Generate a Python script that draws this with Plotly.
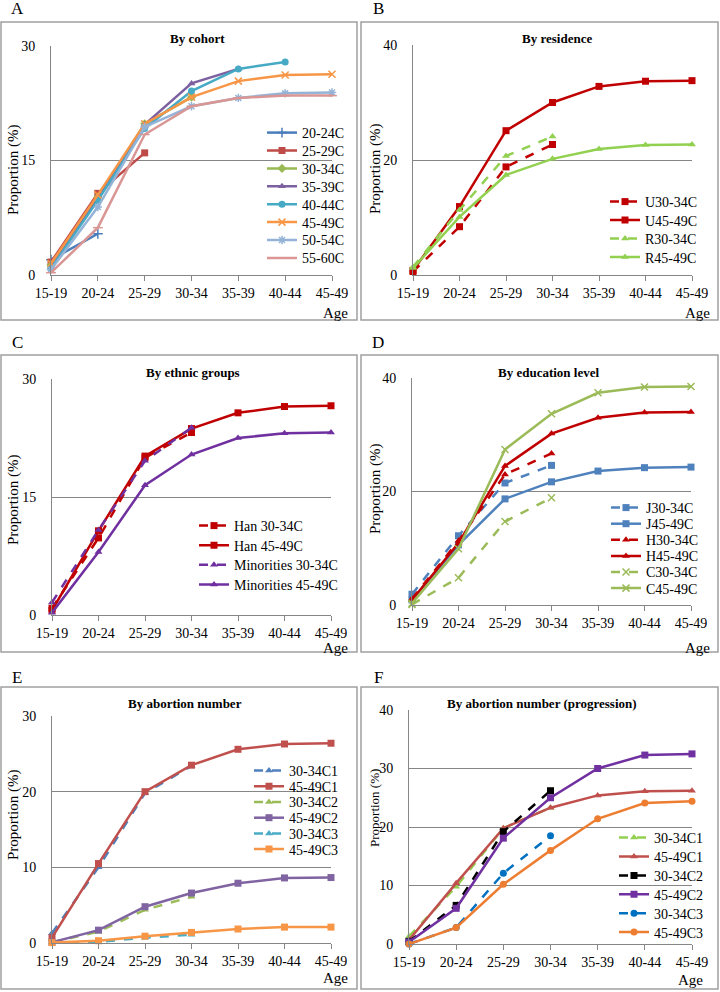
import plotly.graph_objects as go

W, H = 720, 992
FONT = "'Liberation Serif', 'Times New Roman', Times, serif"

ages = ["15-19", "20-24", "25-29", "30-34", "35-39", "40-44", "45-49"]

# A - by cohort
cohort_names = ["20-24C", "25-29C", "30-34C", "35-39C", "40-44C", "45-49C", "50-54C", "55-60C"]
cohort_vals = [
    [2.0, 5.4],
    [1.7, 10.7, 16.0],
    [1.3, 10.2, 19.8, 23.3],
    [1.1, 10.0, 19.7, 25.1, 27.0],
    [0.9, 9.8, 19.2, 24.1, 27.0, 27.9],
    [1.5, 10.5, 19.8, 23.3, 25.4, 26.2, 26.3],
    [0.7, 8.9, 19.4, 22.1, 23.2, 23.8, 23.9],
    [0.3, 6.2, 18.4, 22.1, 23.2, 23.5, 23.5],
]

# B - by residence
res_names = ["U30-34C", "U45-49C", "R30-34C", "R45-49C"]
res_vals = [
    [0.6, 8.4, 18.8, 22.7],
    [0.8, 11.9, 25.1, 30.0, 32.8, 33.7, 33.8],
    [1.4, 11.3, 20.7, 24.1],
    [1.2, 10.1, 17.4, 20.2, 21.9, 22.6, 22.7],
]

# C - by ethnic groups
eth_names = ["Han 30-34C", "Han 45-49C", "Minorities 30-34C", "Minorities 45-49C"]
eth_vals = [
    [0.85, 9.8, 20.0, 23.2],
    [0.6, 10.7, 20.2, 23.7, 25.7, 26.5, 26.6],
    [1.6, 10.8, 19.6, 23.8],
    [0.3, 8.0, 16.5, 20.4, 22.5, 23.1, 23.2],
]

# D - by education level
edu_names = ["J30-34C", "J45-49C", "H30-34C", "H45-49C", "C30-34C", "C45-49C"]
edu_vals = [
    [1.9, 12.2, 21.5, 24.6],
    [0.9, 10.6, 18.7, 21.7, 23.6, 24.2, 24.3],
    [1.1, 11.3, 23.0, 26.7],
    [0.9, 10.9, 24.5, 30.2, 33.0, 33.9, 34.0],
    [0.1, 4.8, 14.7, 18.9],
    [0.3, 9.9, 27.4, 33.7, 37.4, 38.4, 38.5],
]

# E - by abortion number
abn_names = ["30-34C1", "45-49C1", "30-34C2", "45-49C2", "30-34C3", "45-49C3"]
abn_vals = [
    [1.3, 10.0, 19.8, 23.4],
    [0.7, 10.5, 20.0, 23.5, 25.6, 26.3, 26.4],
    [0.1, 1.5, 4.4, 6.1],
    [0.1, 1.7, 4.8, 6.6, 7.9, 8.6, 8.65],
    [0.05, 0.15, 0.7, 1.1],
    [0.05, 0.3, 0.9, 1.4, 1.85, 2.1, 2.1],
]

# F - by abortion number (progression)
prog_names = ["30-34C1", "45-49C1", "30-34C2", "45-49C2", "30-34C3", "45-49C3"]
prog_vals = [
    [1.3, 9.8, 19.8, 23.3],
    [0.7, 10.4, 19.8, 23.3, 25.4, 26.1, 26.2],
    [0.45, 6.6, 19.2, 26.2],
    [0.35, 6.1, 18.1, 25.0, 30.0, 32.3, 32.5],
    [0.0, 2.8, 12.1, 18.5],
    [0.0, 2.8, 10.2, 16.0, 21.4, 24.1, 24.4],
]

panels = [
    dict(label="A", title="By cohort", names=cohort_names, vals=cohort_vals,
         colors=["#4A7EBB", "#BE4B48", "#98B954", "#7D60A0", "#46AAC5", "#F79646", "#95B3D7", "#D99694"],
         symbols=["cross-thin", "square", "diamond", "triangle-up", "circle", "x-thin", "asterisk", "line-ew"],
         dashes=["solid"] * 8,
         box=(1, 22, 357, 320), plot=(51, 46, 332, 275), ymax=30, dtick=15,
         title_x=197, title_y=38, lab=(17, 9), age=(350, 313), ytl=(13, 170, 15),
         leg=(262, 133, 17.9)),
    dict(label="B", title="By residence", names=res_names, vals=res_vals,
         colors=["#C00000", "#C00000", "#92D050", "#92D050"],
         symbols=["square", "square", "triangle-up", "triangle-up"],
         dashes=["dash", "solid", "dash", "solid"],
         box=(361, 22, 718, 320), plot=(413, 45, 692, 275), ymax=40, dtick=20,
         title_x=557, title_y=38, lab=(378, 9), age=(712, 313), ytl=(375, 169, 15),
         leg=(605, 202, 18.5)),
    dict(label="C", title="By ethnic groups", names=eth_names, vals=eth_vals,
         colors=["#C00000", "#C00000", "#7030A0", "#7030A0"],
         symbols=["square", "square", "triangle-up", "triangle-up"],
         dashes=["dash", "solid", "dash", "solid"],
         box=(1, 355, 357, 652), plot=(52, 379, 331, 615), ymax=30, dtick=15,
         title_x=193, title_y=372, lab=(17, 343), age=(350, 648), ytl=(13, 500, 15),
         leg=(194, 526, 19.6)),
    dict(label="D", title="By education level", names=edu_names, vals=edu_vals,
         colors=["#4F81BD", "#4F81BD", "#C00000", "#C00000", "#9BBB59", "#9BBB59"],
         symbols=["square", "square", "triangle-up", "triangle-up", "x-thin", "x-thin"],
         dashes=["dash", "solid"] * 3,
         box=(361, 355, 718, 652), plot=(412, 378, 691, 605), ymax=40, dtick=20,
         title_x=548, title_y=372, lab=(378, 343), age=(712, 648), ytl=(375, 489, 15),
         leg=(606, 508, 16.1)),
    dict(label="E", title="By abortion number", names=abn_names, vals=abn_vals,
         colors=["#4F81BD", "#C0504D", "#9BBB59", "#8064A2", "#4BACC6", "#F79646"],
         symbols=["triangle-up", "square"] * 3,
         dashes=["dash", "solid"] * 3,
         box=(1, 687, 357, 989), plot=(52, 716, 331, 943), ymax=30, dtick=10,
         title_x=185, title_y=703, lab=(17, 677), age=(350, 978), ytl=(13, 815, 15),
         leg=(249, 771, 15.7)),
    dict(label="F", title="By abortion number (progression)", names=prog_names, vals=prog_vals,
         colors=["#92D050", "#C0504D", "#000000", "#7030A0", "#0070C0", "#ED7D31"],
         symbols=["triangle-up", "triangle-up", "square", "square", "circle", "circle"],
         dashes=["dash", "solid"] * 3,
         box=(361, 687, 718, 989), plot=(409, 710, 692, 944), ymax=40, dtick=10,
         title_x=542, title_y=703, lab=(378, 677), age=(705, 980), ytl=(374, 808, 13),
         leg=(614, 838, 18.9)),
]

GRAY = "#868686"


def px_x(v):
    return v / W


def px_y(v):
    return 1 - v / H


fig = go.Figure()
layout = dict(width=W, height=H, margin=dict(l=0, r=0, t=0, b=0),
              paper_bgcolor="white", plot_bgcolor="white",
              font=dict(family=FONT, color="black"), showlegend=True)
shapes = []
annotations = []
nleg = 0


def note(text, x, y, size, anchor="center", angle=0):
    annotations.append(dict(text=text, x=px_x(x), y=px_y(y), xref="paper", yref="paper",
                            showarrow=False, font=dict(family=FONT, size=size),
                            xanchor=anchor, yanchor="middle", textangle=angle))


for i, p in enumerate(panels):
    n = i + 1
    xa = "x" if n == 1 else "x%d" % n
    ya = "y" if n == 1 else "y%d" % n
    x0, y0, x1, y1 = p["plot"]
    layout["xaxis" if n == 1 else "xaxis%d" % n] = dict(
        domain=[px_x(x0), px_x(x1)], anchor=ya, type="category",
        categoryorder="array", categoryarray=ages, range=[0, 6],
        showline=True, linecolor=GRAY, linewidth=1, ticks="outside", ticklen=5,
        tickcolor=GRAY, showgrid=False, tickfont=dict(family=FONT, size=14), automargin=False)
    layout["yaxis" if n == 1 else "yaxis%d" % n] = dict(
        domain=[px_y(y1), px_y(y0)], anchor=xa, range=[0, p["ymax"]], dtick=p["dtick"],
        showline=True, linecolor=GRAY, linewidth=1, showgrid=True, gridcolor=GRAY,
        gridwidth=1, zeroline=False, ticks="", ticklabelstandoff=12,
        tickfont=dict(family=FONT, size=14), automargin=False)

    # one legend per entry so the row spacing can follow the original
    lx, ly, gap = p["leg"]
    for k, name in enumerate(p["names"]):
        nleg += 1
        lname = "legend" if nleg == 1 else "legend%d" % nleg
        c = p["colors"][k]
        sym = p["symbols"][k]
        thin = sym in ("cross-thin", "x-thin", "asterisk", "line-ew")
        vals = p["vals"][k]
        fig.add_trace(go.Scatter(
            x=ages[:len(vals)], y=vals, name=name, mode="lines+markers",
            xaxis=xa, yaxis=ya, legend=lname, cliponaxis=False,
            line=dict(color=c, width=2.5, dash=p["dashes"][k]),
            marker=dict(symbol=sym, size=7, color=c,
                        line=dict(color=c, width=1.5 if thin else 0))))
        layout[lname] = dict(x=px_x(lx), y=px_y(ly + k * gap), xanchor="left", yanchor="middle",
                             bgcolor="rgba(0,0,0,0)", borderwidth=0, itemwidth=30,
                             font=dict(family=FONT, size=14), tracegroupgap=0)

    bx0, by0, bx1, by1 = p["box"]
    shapes.append(dict(type="rect", xref="paper", yref="paper",
                       x0=px_x(bx0), x1=px_x(bx1), y0=px_y(by1), y1=px_y(by0),
                       line=dict(color="#A0A0A0", width=1.5)))
    note("<b>%s</b>" % p["title"], p["title_x"], p["title_y"], 13)
    note(p["label"], p["lab"][0], p["lab"][1], 17)
    note("Age", p["age"][0], p["age"][1], 15, anchor="right")
    note("Proportion (%)", p["ytl"][0], p["ytl"][1], p["ytl"][2], angle=-90)

layout["shapes"] = shapes
layout["annotations"] = annotations
fig.update_layout(**layout)

fig.write_html("out.html", config={"displayModeBar": False},
               post_script="document.body.style.margin='0';")
